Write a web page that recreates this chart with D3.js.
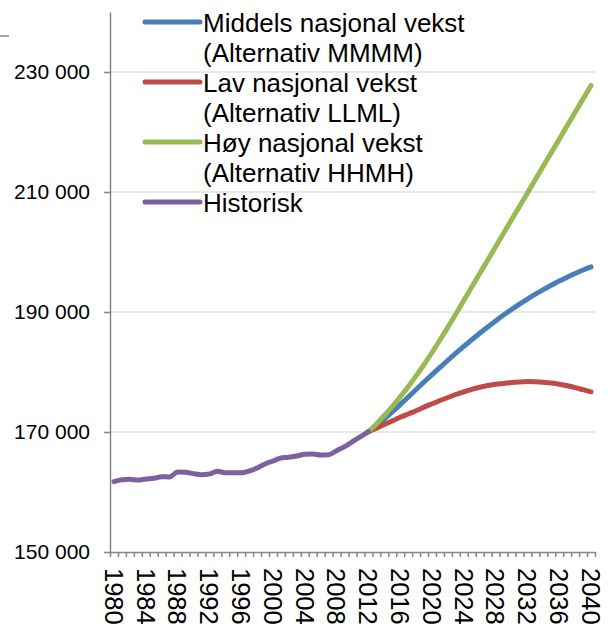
<!DOCTYPE html>
<html>
<head>
<meta charset="utf-8">
<script src="https://cdn.jsdelivr.net/npm/d3@7"></script>
<style>
  body { margin: 0; background: #fff; }
  text { font-family: "Liberation Sans", Arial, sans-serif; fill: #000; }
</style>
</head>
<body>
<div id="chart"></div>
<script>
// categories
const years = d3.range(1980, 2041);
const hist_years = d3.range(1980, 2013);
const proj_years = d3.range(2012, 2041);

// historical population
const historisk = [161720, 162060, 162110, 162000, 162170, 162280, 162560, 162500, 163330, 163280,
    163060, 162890, 163000, 163440, 163220, 163220, 163220, 163500, 164000, 164670,
    165170, 165670, 165780, 166000, 166280, 166330, 166170, 166220, 166890, 167560,
    168390, 169220, 170050];

// projections 2012-2040
const middels = [170050, 171050, 172150, 173330, 174560, 175820, 177080, 178330, 179560, 180770,
    181960, 183130, 184270, 185380, 186460, 187510, 188520, 189490, 190420, 191310,
    192160, 192970, 193740, 194470, 195160, 195810, 196420, 196990, 197520];
const lav = [170050, 170650, 171250, 171850, 172450, 173000, 173550, 174150, 174700, 175250,
    175750, 176250, 176700, 177100, 177450, 177750, 177950, 178100, 178250, 178350,
    178400, 178380, 178300, 178150, 177950, 177700, 177400, 177050, 176700];
const hoy = [170050, 171350, 172750, 174250, 175850, 177550, 179350, 181250, 183250, 185330,
    187480, 189680, 191920, 194160, 196400, 198640, 200880, 203120, 205360, 207600,
    209840, 212080, 214320, 216560, 218800, 221040, 223280, 225520, 227760];

const y_ticks = [150000, 170000, 190000, 210000, 230000];

const legend_items = [
    { lines: ['Middels nasjonal vekst', '(Alternativ MMMM)'], color: '#4a7ebb' },
    { lines: ['Lav nasjonal vekst', '(Alternativ LLML)'], color: '#be4b48' },
    { lines: ['Høy nasjonal vekst', '(Alternativ HHMH)'], color: '#98b954' },
    { lines: ['Historisk'], color: '#7d60a0' }
];

const chart_width = 611;
const chart_height = 630;
const plot_left = 110, plot_right = 595, plot_top = 12, plot_bottom = 552;
const axis_color = '#868686';
const grid_color = '#dde4e4';

const svg = d3.select('#chart')
    .append('svg')
    .attr('width', chart_width)
    .attr('height', chart_height);

// scales
const x_scale = d3.scaleBand()
    .domain(years)
    .range([plot_left, plot_right]);

const x_edges = d3.scaleLinear()
    .domain([0, years.length])
    .range([plot_left, plot_right]);

const y_scale = d3.scaleLinear()
    .domain([150000, 240000])
    .range([plot_bottom, plot_top]);

const fmt = d3.formatLocale({ decimal: ',', thousands: ' ', grouping: [3], currency: ['', ''] }).format(',');

// small stub top-left
svg.append('line')
    .attr('x1', 0).attr('x2', 9)
    .attr('y1', 36).attr('y2', 36)
    .attr('stroke', axis_color)
    .attr('stroke-width', 1.5);

// gridlines
svg.selectAll('.grid')
    .data(y_ticks.slice(1))
    .enter()
    .append('line')
    .attr('x1', plot_left)
    .attr('x2', plot_right)
    .attr('y1', d => y_scale(d))
    .attr('y2', d => y_scale(d))
    .attr('stroke', grid_color)
    .attr('stroke-width', 1.5);

// y axis
const y_axis = svg.append('g')
    .attr('transform', `translate(${plot_left},0)`)
    .call(d3.axisLeft(y_scale).tickValues(y_ticks).tickFormat(fmt).tickSize(6).tickSizeOuter(0).tickPadding(14));
y_axis.selectAll('path, line').attr('stroke', axis_color).attr('stroke-width', 1.5);
y_axis.selectAll('text')
    .attr('font-size', 21)
    .attr('font-family', null)
    .attr('fill', '#000');

// x axis ticks at band edges
const x_axis = svg.append('g')
    .attr('transform', `translate(0,${plot_bottom})`)
    .call(d3.axisBottom(x_edges).tickValues(d3.range(years.length + 1)).tickFormat('').tickSize(5).tickSizeOuter(0));
x_axis.selectAll('path, line').attr('stroke', axis_color).attr('stroke-width', 1.5);

// x labels every 4 years, rotated
svg.selectAll('.xlab')
    .data(years.filter(d => (d - 1980) % 4 === 0))
    .enter()
    .append('text')
    .attr('transform', d => `translate(${x_scale(d) + x_scale.bandwidth() / 2},568) rotate(90)`)
    .attr('dy', '0.36em')
    .attr('font-size', 25.5)
    .text(d => d);

// lines
const line = (xs) => d3.line()
    .x((d, i) => x_scale(xs[i]) + x_scale.bandwidth() / 2)
    .y(d => y_scale(d))
    .curve(d3.curveMonotoneX);

const series = [
    { values: middels, xs: proj_years, color: legend_items[0].color },
    { values: lav, xs: proj_years, color: legend_items[1].color },
    { values: hoy, xs: proj_years, color: legend_items[2].color },
    { values: historisk, xs: hist_years, color: legend_items[3].color }
];

svg.selectAll('.series')
    .data(series)
    .enter()
    .append('path')
    .attr('d', s => line(s.xs)(s.values))
    .attr('fill', 'none')
    .attr('stroke', s => s.color)
    .attr('stroke-width', 5)
    .attr('stroke-linecap', 'round')
    .attr('stroke-linejoin', 'round');

// legend
const legend = svg.selectAll('.legend')
    .data(legend_items)
    .enter()
    .append('g')
    .attr('transform', (d, i) => `translate(0,${22 + i * 60})`);

legend.append('line')
    .attr('x1', 145).attr('x2', 200)
    .attr('y1', 0).attr('y2', 0)
    .attr('stroke', d => d.color)
    .attr('stroke-width', 5)
    .attr('stroke-linecap', 'round');

legend.each(function (d) {
    d3.select(this).selectAll('text')
        .data(d.lines)
        .enter()
        .append('text')
        .attr('x', 203)
        .attr('y', (t, j) => 10 + j * 30)
        .attr('font-size', 26)
        .text(t => t);
});
</script>
</body>
</html>
